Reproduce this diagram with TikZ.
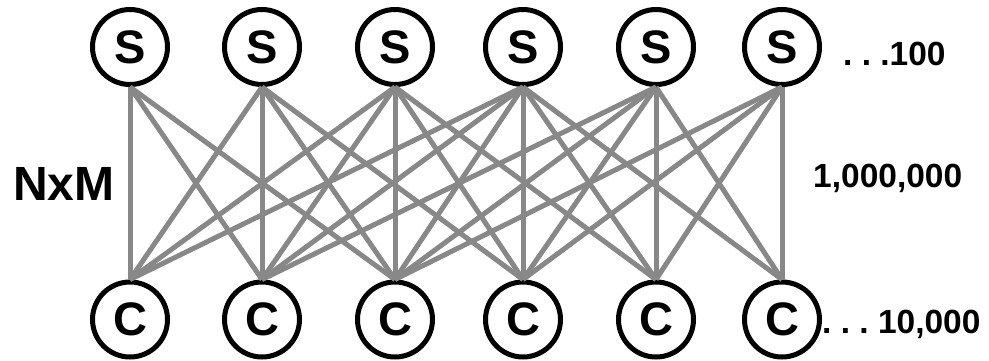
\documentclass[tikz,border=0pt]{standalone}
\usepackage{fontspec}
\setmainfont{Liberation Sans}
\definecolor{edgegray}{RGB}{136,136,136}
\begin{document}
\begin{tikzpicture}[x=1pt,y=-1pt,
  nodecirc/.style={circle,draw=black,line width=5pt,minimum size=75pt,inner sep=0pt,
    font=\fontsize{47}{47}\selectfont\bfseries},
  edge/.style={draw=edgegray,line width=5pt},
  lbl/.style={inner sep=0pt,font=\fontsize{33.5}{34}\selectfont\bfseries},
  biglbl/.style={inner sep=0pt,font=\fontsize{48}{48}\selectfont\bfseries}]
\useasboundingbox (0,0) rectangle (989,360);
\foreach \n/\x in {1/130,2/262,3/395,4/523,5/656,6/782}{
  \node[nodecirc] (s\n) at (\x,47) {S};
  \node[nodecirc] (c\n) at (\x,319.5) {C};
}
\foreach \i/\js in {1/{1,2,3},2/{1,2,3,4},3/{1,2,3,4,5},4/{1,2,3,4,5,6},5/{2,3,4,5,6},6/{3,4,5,6}}{
  \foreach \j in \js {
    \draw[edge] (s\i.south) -- (c\j.north);
  }
}
\node[lbl,anchor=base west] (t100) at (843,65) {.\ .\ .100};
\node[lbl,anchor=base west] (tmil) at (813,187) {1,000,000};
\node[lbl,anchor=base west] (t10k) at (822,333) {.\ .\ .\ 10,000};
\node[biglbl,anchor=base west] (nxm) at (13,200.5) {NxM};
\end{tikzpicture}
\end{document}
